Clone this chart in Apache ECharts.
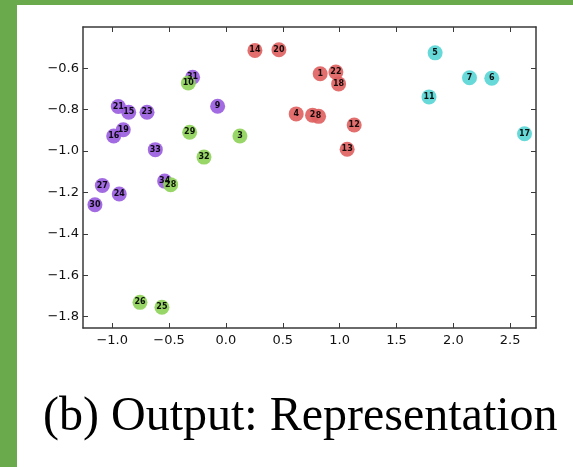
<!DOCTYPE html>
<html>
<head>
<meta charset="utf-8">
<script src="https://cdn.jsdelivr.net/npm/echarts@6/dist/echarts.min.js"></script>
<style>
  html, body { margin: 0; padding: 0; background: #fff; }
  #chart { width: 573px; height: 467px; }
</style>
</head>
<body>
<div id="chart"></div>
<script>
// points per cluster: [x, y, id]
var redPts = [
    [0.829, -0.626, 1], [0.762, -0.826, 2], [0.618, -0.820, 4], [0.815, -0.832, 8],
    [1.128, -0.874, 12], [1.066, -0.991, 13], [0.255, -0.513, 14], [0.991, -0.675, 18],
    [0.466, -0.510, 20], [0.967, -0.618, 22]
];
var cyanPts = [
    [1.840, -0.525, 5], [2.338, -0.648, 6], [2.142, -0.645, 7], [1.786, -0.738, 11],
    [2.626, -0.916, 17]
];
var purplePts = [
    [-0.073, -0.783, 9], [-0.855, -0.812, 15], [-0.903, -0.897, 19], [-0.987, -0.927, 16],
    [-0.947, -0.784, 21], [-0.694, -0.812, 23], [-0.938, -1.207, 24], [-1.087, -1.166, 27],
    [-1.152, -1.259, 30], [-0.293, -0.643, 31], [-0.621, -0.993, 33], [-0.539, -1.145, 34]
];
var greenPts = [
    [0.123, -0.927, 3], [-0.331, -0.671, 10], [-0.563, -1.755, 25], [-0.756, -1.731, 26],
    [-0.486, -1.162, 28], [-0.319, -0.909, 29], [-0.193, -1.029, 32]
];

var xTicks = [-1.0, -0.5, 0.0, 0.5, 1.0, 1.5, 2.0, 2.5];
var xTickLabels = ['\u22121.0', '\u22120.5', '0.0', '0.5', '1.0', '1.5', '2.0', '2.5'];
var yTicks = [-1.8, -1.6, -1.4, -1.2, -1.0, -0.8, -0.6];
var yTickLabels = ['\u22121.8', '\u22121.6', '\u22121.4', '\u22121.2', '\u22121.0', '\u22120.8', '\u22120.6'];

var caption = '(b) Output: Representation';

function tickName(vals, names) {
    return function (v) {
        for (var i = 0; i < vals.length; i++) {
            if (Math.abs(vals[i] - v) < 1e-6) return names[i];
        }
        return '';
    };
}

var frame = { show: true, onZero: false, lineStyle: { color: '#3a3a3a', width: 1.5 } };
var tick = function (vals) {
    return { show: true, inside: true, length: 5, customValues: vals, lineStyle: { color: '#3a3a3a', width: 1 } };
};

function makeAxis(kind, pos, labels) {
    var isX = kind === 'x';
    var vals = isX ? xTicks : yTicks;
    return {
        type: 'value',
        position: pos,
        min: isX ? -1.257 : -1.855,
        max: isX ? 2.727 : -0.4,
        axisLine: frame,
        axisTick: tick(vals),
        splitLine: { show: false },
        axisLabel: {
            show: labels,
            customValues: vals,
            formatter: tickName(vals, isX ? xTickLabels : yTickLabels),
            color: '#111',
            fontFamily: 'DejaVu Sans',
            fontSize: 13,
            margin: isX ? 6 : 4
        }
    };
}

function scatter(pts, color) {
    return {
        type: 'scatter',
        data: pts,
        symbolSize: 15,
        itemStyle: { color: color, opacity: 0.92 },
        label: {
            show: true,
            position: 'inside',
            formatter: function (p) { return p.data[2]; },
            color: '#000',
            fontSize: 8,
            fontWeight: 'bold',
            fontFamily: 'DejaVu Sans'
        },
        emphasis: { disabled: true }
    };
}

var chart = echarts.init(document.getElementById('chart'), null, { renderer: 'canvas' });
chart.setOption({
    animation: false,
    backgroundColor: '#fff',
    graphic: [
        { type: 'rect', shape: { x: 0, y: 0, width: 17, height: 467 }, style: { fill: '#6aaa4c' }, z: -10 },
        { type: 'rect', shape: { x: 0, y: 0, width: 573, height: 5 }, style: { fill: '#6aaa4c' }, z: -10 },
        {
            type: 'text', left: 43, top: 393,
            style: { text: caption, fill: '#000', font: '48px "Liberation Serif"' }
        }
    ],
    grid: { left: 83, right: 37, top: 27, bottom: 139 },
    xAxis: [makeAxis('x', 'bottom', true), makeAxis('x', 'top', false)],
    yAxis: [makeAxis('y', 'left', true), makeAxis('y', 'right', false)],
    series: [
        scatter(purplePts, '#9a5ee0'),
        scatter(greenPts, '#8fd45a'),
        scatter(redPts, '#e06262'),
        scatter(cyanPts, '#5ad6d6')
    ]
});
</script>
</body>
</html>
